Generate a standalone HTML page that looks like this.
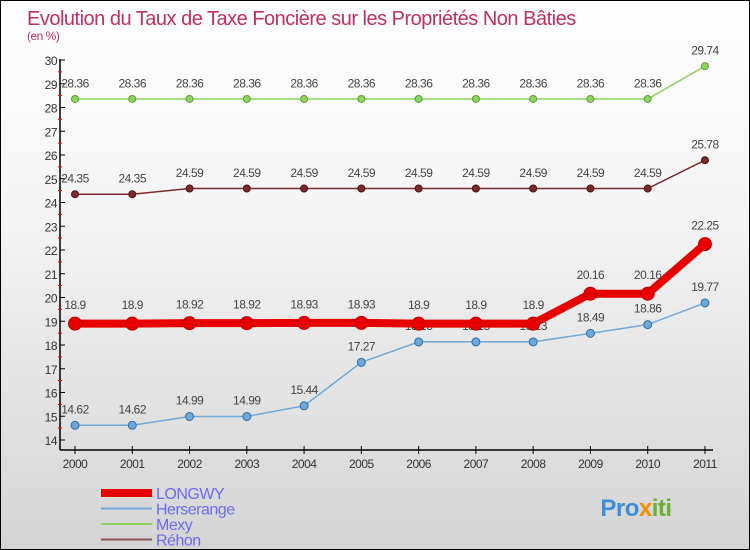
<!DOCTYPE html>
<html><head><meta charset="utf-8"><style>
body{margin:0}
#c{width:748px;height:548px;border:1px solid #000;background:linear-gradient(#fff,#f4f4f4 40%,#d4d4d4);position:relative;font-family:"Liberation Sans",sans-serif;overflow:hidden}
</style></head><body>
<div id="c">
<svg id="s" width="748" height="548"></svg>
</div>
<script>
const years=["2000","2001","2002","2003","2004","2005","2006","2007","2008","2009","2010","2011"];
const longwy=[18.9,18.9,18.92,18.92,18.93,18.93,18.9,18.9,18.9,20.16,20.16,22.25];
const herserange=[14.62,14.62,14.99,14.99,15.44,17.27,18.13,18.13,18.13,18.49,18.86,19.77];
const mexy=[28.36,28.36,28.36,28.36,28.36,28.36,28.36,28.36,28.36,28.36,28.36,29.74];
const rehon=[24.35,24.35,24.59,24.59,24.59,24.59,24.59,24.59,24.59,24.59,24.59,25.78];
const yTicks=[14,15,16,17,18,19,20,21,22,23,24,25,26,27,28,29,30];
const NS="http://www.w3.org/2000/svg",s=document.getElementById('s');
const xs=i=>74+i*57.27, ys=v=>439-(v-14)*23.75;
function el(t,a,p){const e=document.createElementNS(NS,t);for(const k in a)e.setAttribute(k,a[k]);(p||s).appendChild(e);return e;}
function tx(x,y,str,sz,fill,anchor){const e=el('text',{x:x,y:y,'font-size':sz,fill:fill,'text-anchor':anchor||'middle','letter-spacing':'-0.5'});e.textContent=str;return e;}
let t=tx(26,24,"Evolution du Taux de Taxe Foncière sur les Propriétés Non Bâties",20,"#c0305e","start");


t=tx(26,39,"(en %)",12,"#c0305e","start");


// axes
let a=el('line',{x1:59,y1:58,x2:59,y2:449,stroke:'#000','stroke-width':1.5});


a=el('line',{x1:59,y1:449,x2:712,y2:449,stroke:'#000','stroke-width':1.5});


yTicks.forEach(v=>{const y=ys(v);el('line',{x1:59,y1:y,x2:64,y2:y,stroke:'#000'});
 if(v<30)el('line',{x1:57,y1:y-11.9,x2:61,y2:y-11.9,stroke:'#e00'});
 const l=tx(56,y+5,String(v),12,"#333","end");
 
 });
years.forEach((yr,i)=>{el('line',{x1:xs(i),y1:445,x2:xs(i),y2:453,stroke:'#000'});
 const l=tx(xs(i),467,yr,12,"#333");
 
 });
function series(data,name,color,dark,w,r,fs){
 const g=el('g',{});
 
 
 el('polyline',{points:data.map((v,i)=>xs(i)+','+ys(v)).join(' '),fill:'none',stroke:color,'stroke-width':w},g);
 data.forEach((v,i)=>{const c=el('circle',{cx:xs(i),cy:ys(v),r:r,fill:color,stroke:dark,'stroke-width':1},g);
  
  
  const l=tx(xs(i),ys(v)-(r+8),String(v),fs,"#444");g.appendChild(l);
  
  });
}
series(mexy,'mexy','#8fd460','#5aa030',1.5,3.5,12);
series(rehon,'rehon','#7a2a2a','#501010',1.5,3.5,12);
series(herserange,'herserange','#6fa8d8','#2a70a8',1.5,4,12);
series(longwy,'longwy','#e80000','#c00000',8,6.5,12);
// legend
const leg=[["LONGWY","#e80000",8],["Herserange","#6fa8d8",2],["Mexy","#8fd460",2],["Réhon","#8b5050",2]];
leg.forEach((d,i)=>{const y=492+i*15.5;
 const g=el('g',{});
 
 
 el('line',{x1:100,y1:y,x2:151,y2:y,stroke:d[1],'stroke-width':d[2]},g);
 const l=tx(155,y+6,d[0],16,"#6b6bf0","start");g.appendChild(l);});
// logo
const lg=tx(635,515,"",24,"#f0a000");


lg.setAttribute('font-weight','bold');
[["Pro","#3a8fd8"],["x","#f09000"],["iti","#6ab030"]].forEach(p=>{const ts=el('tspan',{fill:p[1]},lg);ts.textContent=p[0];});
</script>
</body></html>
